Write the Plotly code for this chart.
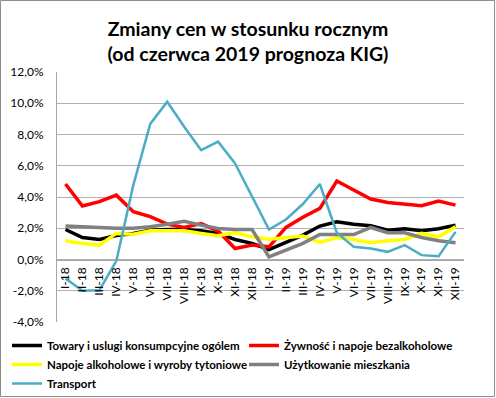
import plotly.graph_objects as go

months = ["I-18", "II-18", "III-18", "IV-18", "V-18", "VI-18", "VII-18", "VIII-18",
          "IX-18", "X-18", "XI-18", "XII-18", "I-19", "II-19", "III-19", "IV-19",
          "V-19", "VI-19", "VII-19", "VIII-19", "IX-19", "X-19", "XI-19", "XII-19"]

ogolem = [1.92, 1.41, 1.28, 1.54, 1.67, 1.88, 1.92, 1.92, 1.84, 1.67, 1.28, 1.03,
          0.64, 1.11, 1.56, 2.14, 2.41, 2.26, 2.16, 1.88, 1.97, 1.84, 1.97, 2.20]
zywnosc = [4.83, 3.42, 3.70, 4.12, 3.06, 2.74, 2.26, 2.05, 2.30, 1.82, 0.70, 0.92,
           0.81, 2.05, 2.70, 3.27, 5.02, 4.44, 3.87, 3.65, 3.53, 3.44, 3.74, 3.48]
alkohol = [1.20, 1.03, 0.92, 1.67, 1.62, 1.84, 1.84, 1.84, 1.67, 1.52, 1.71, 1.45,
           1.30, 1.41, 1.50, 1.09, 1.41, 1.28, 1.07, 1.20, 1.28, 1.67, 1.45, 2.09]
mieszkanie = [2.14, 2.09, 2.00, 2.00, 2.00, 2.09, 2.26, 2.44, 2.20, 1.99, 1.92, 1.92,
              0.17, 0.60, 1.03, 1.60, 1.60, 1.60, 2.05, 1.71, 1.71, 1.41, 1.20, 1.07]
transport = [-1.22, -2.00, -1.97, -0.09, 4.76, 8.68, 10.10, 8.50, 7.00, 7.54, 6.15, 4.00,
             1.92, 2.56, 3.55, 4.83, 1.71, 0.81, 0.70, 0.49, 0.92, 0.28, 0.21, 1.77]

series_names = ["Towary i uslugi konsumpcyjne ogólem",
                "Żywność i napoje bezalkoholowe",
                "Napoje alkoholowe i wyroby tytoniowe",
                "Użytkowanie mieszkania",
                "Transport"]
series_values = [ogolem, zywnosc, alkohol, mieszkanie, transport]
colors = ["#000000", "#ff0000", "#ffff00", "#808080", "#4bacc6"]
widths = [3.5, 3.5, 3.5, 3.5, 2.5]
legend_ids = ["legend", "legend2", "legend", "legend2", "legend"]

y_ticks = [-4, -2, 0, 2, 4, 6, 8, 10, 12]
y_tick_labels = ["-4,0%", "-2,0%", "0,0%", "2,0%", "4,0%", "6,0%", "8,0%", "10,0%", "12,0%"]

FONT = "Lato"

fig = go.Figure()
for name, vals, c, w, lg in zip(series_names, series_values, colors, widths, legend_ids):
    fig.add_trace(go.Scatter(x=months, y=vals, name=name, mode="lines",
                             line=dict(color=c, width=w), legend=lg))

# plot area geometry (pixels) for border shape in paper coords
W, H = 496, 398
L, R, T, B = 57, 32, 72, 76
pw, ph = W - L - R, H - T - B

def px(x):
    return (x - L) / pw

def py(y):
    return (H - B - y) / ph

fig.add_shape(type="rect", xref="paper", yref="paper",
              x0=px(0.5), x1=px(494.5), y0=py(396.5), y1=py(0.5),
              line=dict(color="#8c8c8c", width=1), fillcolor="rgba(0,0,0,0)",
              layer="below")

legend_common = dict(
    orientation="v", xref="container", yref="container",
    xanchor="left", yanchor="top", tracegroupgap=0, itemwidth=30,
    font=dict(family=FONT, size=11.5, color="#000000", weight="bold"),
    bgcolor="rgba(0,0,0,0)",
)

fig.update_layout(
    width=W, height=H,
    margin=dict(l=L, r=R, t=T, b=B, autoexpand=False),
    paper_bgcolor="white", plot_bgcolor="white",
    font=dict(family=FONT, color="#000000"),
    title=dict(
        text="<b>Zmiany cen w stosunku rocznym</b><br><b>(od czerwca 2019 prognoza KIG)</b>",
        x=0.5, xref="container", xanchor="center",
        y=1 - 36 / H, yref="container", yanchor="middle",
        font=dict(family=FONT, size=19.5, color="#000000"),
    ),
    xaxis=dict(
        type="category",
        anchor="free", position=0.25,
        showgrid=False, showline=True, linecolor="#a6a6a6", linewidth=1,
        tickangle=-90, ticks="", ticklabelstandoff=2,
        tickfont=dict(family=FONT, size=12, color="#000000"),
        range=[-0.5, len(months) - 0.5],
        automargin=False,
    ),
    yaxis=dict(
        range=[-4, 12], tickvals=y_ticks, ticktext=y_tick_labels,
        showgrid=True, gridcolor="#b0b0b0", gridwidth=1,
        showline=True, linecolor="#a6a6a6", linewidth=1,
        zeroline=False, ticks="", ticklabelstandoff=10,
        tickfont=dict(family=FONT, size=12, color="#000000"),
        automargin=False,
    ),
    showlegend=True,
    legend=dict(x=7 / W, y=1 - 331 / H, **legend_common),
    legend2=dict(x=244 / W, y=1 - 331 / H, **legend_common),
)

fig.write_html("out.html", config={"displayModeBar": False},
               post_script="document.body.style.margin='0';")
